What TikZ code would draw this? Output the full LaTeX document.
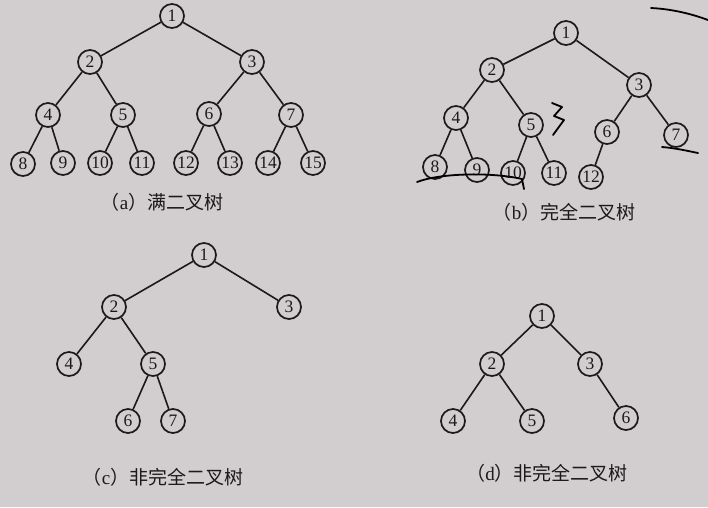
\documentclass[tikz,border=0pt]{standalone}
\usepackage{fontspec}
\setmainfont{Liberation Serif}
\newfontfamily\cjk{Noto Sans CJK SC}
\definecolor{paper}{HTML}{D2CDCF}
\definecolor{ink}{HTML}{1A1A1A}
\tikzset{
  tn/.style={circle,draw=ink,line width=1.7pt,minimum size=24pt,inner sep=0pt,font=\fontsize{17.5}{17.5}\selectfont,text=ink},
  ed/.style={draw=ink,line width=1.6pt},
  captext/.style={font=\fontsize{19}{19}\selectfont,text=ink},
  pen/.style={draw=black,line width=1.8pt,line cap=round,line join=round}
}
\begin{document}
\begin{tikzpicture}[x=1pt,y=-1pt]
\fill[paper] (0,0) rectangle (708,507);
\useasboundingbox (0,0) rectangle (708,507);
% (a) full binary tree
\node[tn] (a1) at (172,16) {1};
\node[tn] (a2) at (90,62) {2};
\node[tn] (a3) at (252,62) {3};
\node[tn] (a4) at (48,115) {4};
\node[tn] (a5) at (123,115) {5};
\node[tn] (a6) at (209,114) {6};
\node[tn] (a7) at (291,115) {7};
\node[tn] (a8) at (23,164) {8};
\node[tn] (a9) at (63,163) {9};
\node[tn] (a10) at (100,163) {10};
\node[tn] (a11) at (142,163) {11};
\node[tn] (a12) at (186,163) {12};
\node[tn] (a13) at (230,163) {13};
\node[tn] (a14) at (268,163) {14};
\node[tn] (a15) at (313,163) {15};
\foreach \p/\c in {a1/a2,a1/a3,a2/a4,a2/a5,a3/a6,a3/a7,a4/a8,a4/a9,a5/a10,a5/a11,a6/a12,a6/a13,a7/a14,a7/a15}
  \draw[ed] (\p) -- (\c);
\node[captext] (capa) at (162,202) {{\cjk （}a{\cjk ）满二叉树}};
% (b) complete binary tree
\node[tn] (b1) at (566,33) {1};
\node[tn] (b2) at (492,70) {2};
\node[tn] (b3) at (639,85) {3};
\node[tn] (b4) at (456,118) {4};
\node[tn] (b5) at (531,125) {5};
\node[tn] (b6) at (607,132) {6};
\node[tn] (b7) at (676,135) {7};
\node[tn] (b8) at (435,167) {8};
\node[tn] (b9) at (477,170) {9};
\node[tn] (b10) at (513,173) {10};
\node[tn] (b11) at (554,173) {11};
\node[tn] (b12) at (591,177) {12};
\foreach \p/\c in {b1/b2,b1/b3,b2/b4,b2/b5,b3/b6,b3/b7,b4/b8,b4/b9,b5/b10,b5/b11,b6/b12}
  \draw[ed] (\p) -- (\c);
\node[captext] (capb) at (564,212) {{\cjk （}b{\cjk ）完全二叉树}};
% handwritten pen marks
\draw[pen] (651,8) .. controls (672,9) and (692,14) .. (708,20);
\draw[pen] (417,182) .. controls (440,173) and (492,172) .. (522,179) -- (524,189);
\draw[pen] (662,147) .. controls (675,148) and (688,151) .. (698,153);
\draw[pen] (552,103) -- (562,107) -- (554,116) -- (564,120) -- (553,135);
% (c) non-complete binary tree
\node[tn] (c1) at (204,255) {1};
\node[tn] (c2) at (114,307) {2};
\node[tn] (c3) at (289,307) {3};
\node[tn] (c4) at (69,364) {4};
\node[tn] (c5) at (153,364) {5};
\node[tn] (c6) at (128,421) {6};
\node[tn] (c7) at (173,421) {7};
\foreach \p/\c in {c1/c2,c1/c3,c2/c4,c2/c5,c5/c6,c5/c7}
  \draw[ed] (\p) -- (\c);
\node[captext] (capc) at (163,477) {{\cjk （}c{\cjk ）非完全二叉树}};
% (d) non-complete binary tree
\node[tn] (d1) at (542,316) {1};
\node[tn] (d2) at (492,364) {2};
\node[tn] (d3) at (590,364) {3};
\node[tn] (d4) at (453,421) {4};
\node[tn] (d5) at (532,421) {5};
\node[tn] (d6) at (626,418) {6};
\foreach \p/\c in {d1/d2,d1/d3,d2/d4,d2/d5,d3/d6}
  \draw[ed] (\p) -- (\c);
\node[captext] (capd) at (547,473) {{\cjk （}d{\cjk ）非完全二叉树}};
\end{tikzpicture}
\end{document}
